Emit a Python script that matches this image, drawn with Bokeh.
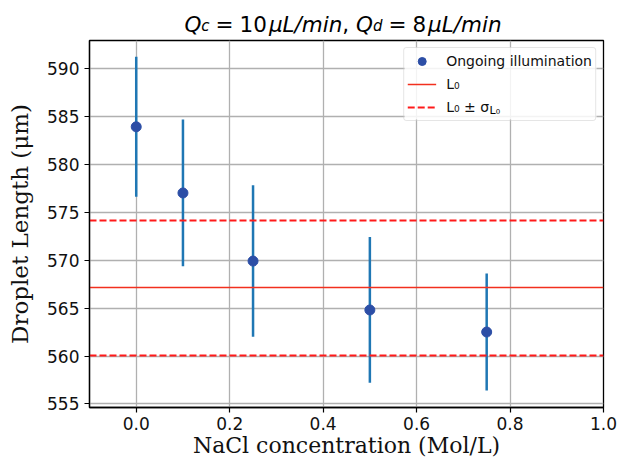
from bokeh.plotting import figure
from bokeh.layouts import column
from bokeh.models import (Label, Legend, LegendItem, FixedTicker, NumeralTickFormatter,
                          Range1d, ColumnDataSource, BoxAnnotation)
from bokeh.core.properties import value
from bokeh.embed import file_html
from bokeh.resources import INLINE

# ---------------- data ----------------
conc = [0.0, 0.1, 0.25, 0.5, 0.75]            # NaCl concentration (Mol/L)
length = [583.9, 577.0, 569.9, 564.8, 562.5]  # droplet length (um)
err = [7.3, 7.65, 7.9, 7.6, 6.1]              # error bar half-length
L0 = 567.1
sigma_L0 = 7.0
x_ticks = [0.0, 0.2, 0.4, 0.6, 0.8, 1.0]
y_ticks = [555, 560, 565, 570, 575, 580, 585, 590]
x_label = "NaCl concentration (Mol/L)"
y_label = "Droplet Length (μm)"
series_label = "Ongoing illumination"
l0_label = "L₀"
band_label = "L₀ ± σ"
band_sub = "L₀"

TXT = "#111111"
W = 617
FRAME_L, FRAME_R = 89, 603

# ---------------- title strip ----------------
TH = 38
t = figure(width=W, height=TH, output_backend="svg", toolbar_location=None,
           x_range=Range1d(FRAME_L, FRAME_R), y_range=Range1d(0, TH),
           x_axis_type=None, y_axis_type=None,
           min_border_left=FRAME_L, min_border_right=W - FRAME_R,
           min_border_top=0, min_border_bottom=0)
t.title.visible = False
t.outline_line_color = None
t.background_fill_color = "white"
t.border_fill_color = "white"

S, SUB = 21.5, 15.0
adv = {"Q": .787, "c": .55, "d": .635, "=": .838, "0": .636, "1": .636, "8": .636,
       "μ": .636, "L": .557, "/": .337, "m": .974, "i": .278, "n": .634, ",": .318, " ": .318}
thick = 0.2778 * S
segs = [("Q", S, "italic", 0), ("c", SUB, "italic", -1.5), (None, thick, None, 0),
        ("=", S, "normal", 0), (None, thick, None, 0), ("10", S, "normal", 0), (None, 2, None, 0),
        ("μL/min", S, "italic", 0), (", ", S, "normal", 0),
        ("Q", S, "italic", 0), ("d", SUB, "italic", -1.5), (None, thick, None, 0),
        ("=", S, "normal", 0), (None, thick, None, 0), ("8", S, "normal", 0), (None, 2, None, 0),
        ("μL/min", S, "italic", 0)]


def seg_w(txt, sz):
    return sum(adv[ch] for ch in txt) * sz


total = sum(seg_w(s, sz) if s else sz for s, sz, st, dy in segs)
cx = (FRAME_L + FRAME_R) / 2 - (total + 7) / 2
base = TH - 31.5 + 8
for s, sz, st, dy in segs:
    if s is None:
        cx += sz
        continue
    t.text(x=[cx], y=[base + dy], text=[s], text_font=value("DejaVu Sans"),
           text_font_size=f"{sz}px", text_font_style=st, text_color="black",
           text_baseline="alphabetic", text_align="left")
    cx += seg_w(s, sz)

# ---------------- main plot ----------------
H = 424
BL, BR, BT, BB = FRAME_L, W - FRAME_R, 2, 55
FW, FH = W - BL - BR, H - BT - BB

p = figure(width=W, height=H, output_backend="svg", toolbar_location=None,
           x_range=Range1d(-0.1, 1.0), y_range=Range1d(554.63, 592.9),
           min_border_left=BL, min_border_right=BR, min_border_top=BT, min_border_bottom=BB)
p.title.visible = False
p.background_fill_color = "white"
p.border_fill_color = "white"
p.outline_line_color = "black"
p.outline_line_width = 1.3

for ax in (p.xaxis[0], p.yaxis[0]):
    ax.axis_line_color = "black"
    ax.axis_line_width = 1.3
    ax.major_tick_out = 5
    ax.major_tick_in = 0
    ax.major_tick_line_color = "black"
    ax.major_tick_line_width = 1.2
    ax.minor_tick_line_color = None
    ax.major_label_text_font = "DejaVu Sans"
    ax.major_label_text_font_size = "17px"
    ax.major_label_text_color = TXT
    ax.axis_label_text_font = "DejaVu Serif"
    ax.axis_label_text_font_style = "normal"
    ax.axis_label_text_color = TXT
p.xaxis.axis_label_text_font_size = "22px"
p.yaxis.axis_label_text_font_size = "23px"
p.xaxis.ticker = FixedTicker(ticks=x_ticks)
p.yaxis.ticker = FixedTicker(ticks=y_ticks)
p.xaxis.formatter = NumeralTickFormatter(format="0.0")
p.xaxis.major_label_standoff = 4
p.yaxis.major_label_standoff = 5
p.xaxis.axis_label = x_label
p.yaxis.axis_label = y_label
p.xaxis.axis_label_standoff = 0
p.yaxis.axis_label_standoff = 11

p.xgrid.ticker = FixedTicker(ticks=x_ticks)
p.ygrid.ticker = FixedTicker(ticks=y_ticks)
for g in (p.xgrid[0], p.ygrid[0]):
    g.grid_line_color = "#b0b0b0"
    g.grid_line_width = 1.3

# legend geometry (screen px)
LEG_M, LEG_P, LEG_W = 7, 3, 192
LEG_H = 2 * LEG_P + 3 * 20 + 2 * 3

# white panel behind the legend (drawn beneath the glyphs, above the grid)
p.add_layout(BoxAnnotation(left=FW - LEG_M - LEG_W, right=FW - LEG_M,
                           top=FH - LEG_M, bottom=FH - LEG_M - LEG_H,
                           left_units="screen", right_units="screen",
                           top_units="screen", bottom_units="screen",
                           fill_color="white", fill_alpha=0.85, line_color=None,
                           level="underlay"))

src = ColumnDataSource(dict(
    x=conc, y=length,
    lo=[v - e for v, e in zip(length, err)],
    hi=[v + e for v, e in zip(length, err)],
))
p.segment(x0="x", y0="lo", x1="x", y1="hi", source=src,
          line_color="#1f77b4", line_width=2.5)

r_l0 = p.hspan(y=[L0], line_color="#f2301e", line_width=1.6)
r_sig = p.hspan(y=[L0 + sigma_L0, L0 - sigma_L0], line_color="#ff1a1a",
                line_width=2, line_dash="7 3")
r_pts = p.scatter(x="x", y="y", source=src, size=10, marker="circle",
                  fill_color="#2c4ea6", line_color="#2c4ea6")

legend = Legend(items=[LegendItem(label=series_label, renderers=[r_pts]),
                       LegendItem(label=l0_label, renderers=[r_l0]),
                       LegendItem(label=band_label, renderers=[r_sig])],
                location="top_right", margin=LEG_M, padding=LEG_P, spacing=3,
                glyph_width=29, glyph_height=20, label_height=20, label_standoff=10,
                label_text_font="DejaVu Sans", label_text_font_size="14px",
                label_text_color=TXT,
                border_line_color="#cccccc", border_line_width=1,
                background_fill_color=None)
try:
    legend.border_radius = 3
except Exception:
    pass
p.add_layout(legend)

# subscript of sigma inside the legend
p.add_layout(Label(x=FW - LEG_M - LEG_W + LEG_P + 29 + 10 + 43, y=FH - 70,
                   x_units="screen", y_units="screen", text=band_sub, level="overlay",
                   text_font="DejaVu Sans", text_font_size="11px", text_color="black",
                   text_baseline="alphabetic"))

layout = column(t, p, spacing=0)
open("out.html", "w").write(file_html(layout, INLINE))
